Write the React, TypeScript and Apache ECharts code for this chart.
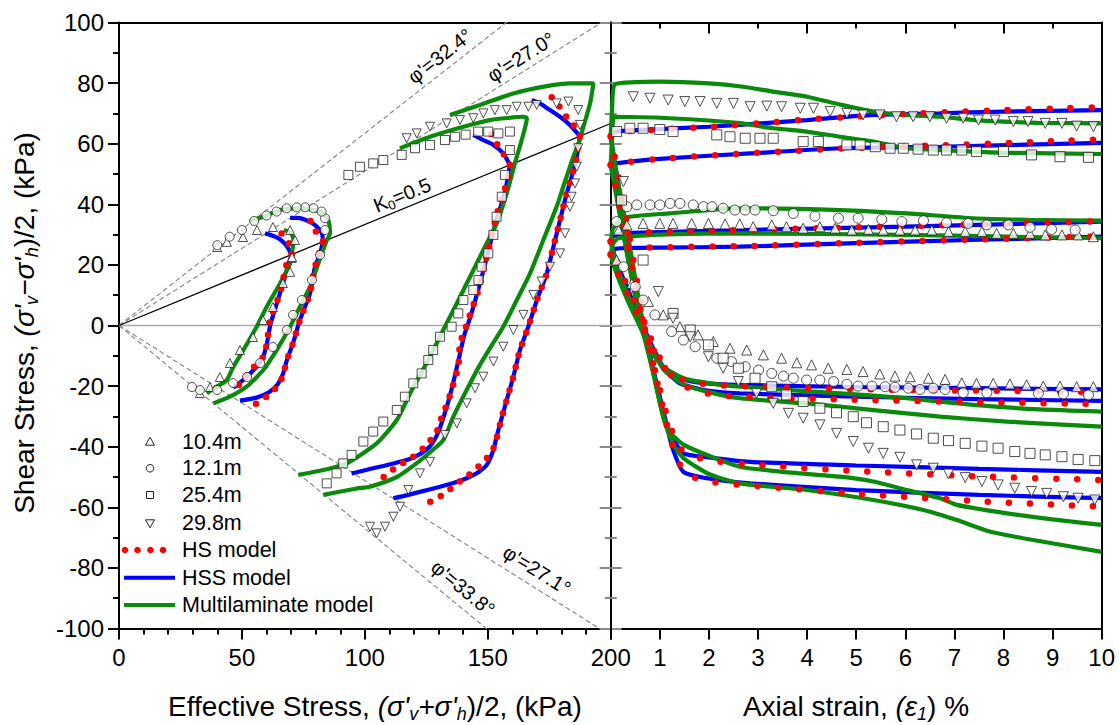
import React, { useEffect, useRef } from 'react';
import * as echarts from 'echarts';

const FONT = 'Arial, "Liberation Sans", Helvetica, sans-serif';
const RED = '#ff0000';
const BLUE = '#0000ff';
const GREEN = '#0a8a0a';
const GRAY = '#8a8a8a';

// ---------- reference lines ----------
const PHI_UP = [32.4, 27.0];
const PHI_DOWN = [27.1, 33.8];
const K0 = 0.5;

// ---------- LEFT PANEL: stress paths (s', t) ----------
// measured data
const D104L_comp = [[70.2,22.3],[71.6,28.2],[69.6,31.5],[62.6,32.5],[56.1,31.5],[50.4,29.2],[43.9,27.6],[39.9,25.9]];
const D104L_ext = [[70.4,22.6],[69.6,17.7],[66.7,14.0],[62.6,6.1],[58.6,1.8],[54.5,-3.8],[49.2,-8.1],[45.1,-12.4],[41.0,-17.0],[37.0,-20.3],[32.9,-22.3]];
const D121L_comp = [[83.8,31.5],[83.8,35.4],[82.4,37.6],[79.1,38.7],[75.7,39.0],[72.3,39.0],[68.2,38.7],[64.1,37.6],[60.0,36.3],[55.0,34.5],[50.0,31.5],[45.0,29.3],[40.0,26.5]];
const D121L_ext = [[81.8,23.3],[78.5,15.0],[74.4,8.4],[70.8,3.5],[68.3,-1.5],[62.6,-7.1],[57.4,-12.4],[52.1,-17.0],[46.4,-19.0],[39.9,-21.3],[32.9,-21.3],[29.7,-20.3]];
const D254L_comp = [[159.0,57.9],[159.0,64.0],[154.3,63.4],[150.2,64.0],[146.1,64.0],[141.0,63.0],[136.7,62.3],[132.6,61.2],[126.5,59.6],[120.4,58.5],[115.0,56.3],[107.5,54.6],[103.4,53.5],[98.0,52.4],[93.3,49.7]];
const D254L_ext = [[157.0,49.7],[155.7,42.5],[153.6,35.9],[152.3,29.9],[150.2,23.8],[147.5,19.4],[146.2,15.0],[144.1,11.7],[140.1,8.4],[138.0,4.0],[135.3,-0.4],[130.6,-3.7],[127.8,-8.1],[125.8,-11.4],[123.1,-15.8],[119.7,-19.1],[116.3,-23.5],[113.0,-27.9],[107.5,-31.7],[103.4,-35.0],[99.4,-38.3],[94.6,-42.7],[91.2,-45.5],[88.5,-48.8],[84.5,-52.1]];
const D298L_comp = [[187.5,66.2],[186.8,71.1],[182.8,73.9],[178.0,73.3],[169.9,72.8],[166.5,72.2],[161.8,72.2],[157.7,71.1],[152.9,71.1],[148.2,70.0],[144.1,68.4],[138.7,67.8],[133.3,66.7],[126.5,65.6],[121.1,63.4],[117.0,61.8]];
const D298L_ext = [[186.8,58.5],[186.2,52.4],[185.5,46.9],[184.1,42.5],[183.4,39.2],[181.4,30.4],[179.4,23.8],[175.3,19.4],[171.9,14.5],[168.5,10.1],[164.5,3.5],[160.4,-1.5],[156.3,-7.0],[152.3,-11.9],[148.2,-16.9],[144.8,-20.7],[141.4,-25.7],[137.4,-32.3],[132.6,-36.1],[126.5,-45.0],[122.4,-48.8],[117.7,-54.3],[114.3,-59.8],[111.6,-63.1],[108.2,-66.4],[104.8,-68.6],[102.1,-66.4]];

// HSS model
const H104L_comp = [[70.2,23.4],[68.0,26.5],[65.0,28.7],[62.0,29.8],[59.4,30.4]];
const H104L_ext = [[70.2,23.4],[68.5,19.0],[66.0,12.0],[63.5,5.5],[61.5,0.0],[60.2,-5.8],[58.6,-10.4],[56.0,-13.5],[52.5,-16.5],[49.0,-19.0],[46.5,-20.5]];
const H121L_comp = [[83.0,27.7],[82.5,30.5],[80.0,33.0],[76.0,34.8],[72.5,35.5],[69.6,35.5]];
const H121L_ext = [[83.0,27.7],[81.5,23.0],[79.7,19.3],[77.7,10.7],[73.6,1.8],[70.8,-5.8],[68.3,-11.4],[66.7,-16.0],[64.5,-19.5],[61.0,-22.0],[56.0,-23.8],[49.2,-24.8]];
const H254L_comp = [[159.0,53.0],[156.3,56.8],[152.3,59.6],[148.2,61.2],[144.1,62.9]];
const H254L_ext = [[159.0,53.0],[157.5,46.0],[155.5,40.0],[153.5,35.0],[151.0,27.0],[148.5,19.0],[146.0,11.5],[143.0,3.0],[140.5,-3.0],[138.5,-10.0],[136.5,-17.0],[134.5,-23.5],[132.5,-29.0],[130.0,-35.0],[127.5,-38.8],[125.0,-41.0],[120.0,-43.5],[114.3,-45.0],[108.0,-46.3],[103.4,-47.1],[98.0,-48.2],[94.6,-48.8]];
const H298L_comp = [[187.5,62.5],[183.4,66.2],[179.4,68.9],[175.3,71.1],[171.2,73.3],[167.9,74.4]];
const H298L_ext = [[187.5,62.5],[186.2,55.7],[184.1,49.1],[182.1,43.6],[179.4,34.8],[176.7,26.0],[174.0,17.2],[170.0,8.4],[166.5,-0.4],[163.1,-8.1],[160.4,-16.9],[157.7,-24.6],[155.5,-31.0],[153.6,-36.7],[152.3,-41.1],[149.6,-46.0],[146.0,-48.5],[141.4,-50.4],[136.0,-52.0],[130.6,-53.2],[122.0,-55.0],[115.6,-56.3],[111.6,-57.0]];

// HS model
const S104L_comp = [[70.2,23.4],[69.5,26.6],[67.5,29.0],[65.5,31.0]];
const S104L_ext = [[70.2,23.4],[68.3,20.6],[65.5,10.7],[61.4,1.8],[60.2,-5.8],[58.6,-10.4],[54.5,-14.0],[50.4,-18.0],[46.4,-21.9]];
const S121L_comp = [[83.0,27.7],[79.7,31.5],[77.7,34.8]];
const S121L_ext = [[83.0,27.7],[79.7,19.3],[77.7,10.7],[73.6,1.8],[70.8,-5.8],[68.3,-11.4],[66.5,-17.0],[64.0,-20.5],[60.0,-23.5],[57.0,-25.3],[54.0,-26.5]];
const S254L_comp = [[159.0,53.0],[158.4,54.0],[156.3,56.8],[153.6,60.1],[150.9,64.0]];
const S254L_ext = [[159.0,53.0],[158.4,48.9],[155.3,40.9],[153.6,36.5],[152.3,32.1],[148.9,20.5],[146.2,11.7],[142.5,2.9],[140.7,-1.5],[138.7,-5.9],[138.0,-13.6],[135.3,-21.3],[133.3,-26.2],[131.3,-30.1],[129.9,-33.9],[127.8,-36.7],[123.8,-40.5],[119.7,-43.3],[114.3,-46.0],[110.2,-48.3],[106.2,-51.0]];
const S298L_comp = [[187.5,62.5],[184.8,66.2],[181.4,69.5],[178.7,72.8],[174.6,76.6]];
const S298L_ext = [[187.5,62.5],[186.2,55.7],[184.1,49.1],[182.1,43.6],[179.4,34.8],[176.7,26.0],[174.0,17.2],[170.0,8.4],[166.5,-0.4],[163.1,-8.1],[160.4,-16.9],[157.7,-24.6],[155.5,-31.0],[153.6,-37.2],[152.3,-40.5],[149.6,-43.8],[145.5,-47.1],[141.4,-49.9],[136.7,-52.6],[132.6,-55.4],[127.8,-57.6],[123.1,-59.8]];

// Multilaminate model
const M104L_comp = [[70.2,23.4],[71.0,28.0],[70.0,30.5],[67.0,31.5]];
const M104L_ext = [[70.2,23.4],[69.6,20.5],[65.5,13.9],[60.1,6.2],[56.0,-0.4],[50.6,-8.1],[46.5,-13.6],[43.8,-18.0],[39.7,-20.2],[35.7,-22.4]];
const M121L_comp = [[84.5,28.2],[85.8,30.4],[85.1,34.8],[81.8,37.6],[73.6,38.7],[65.5,38.1],[58.7,35.9],[53.3,34.5]];
const M121L_ext = [[84.5,28.2],[81.1,20.5],[77.7,12.8],[73.6,6.2],[69.6,-0.4],[64.1,-8.1],[58.7,-14.7],[51.9,-20.2],[45.1,-23.5],[38.4,-25.7]];
const M254L_comp = [[161.0,53.5],[163.8,61.2],[165.9,68.4],[164.5,68.9],[150.9,67.8],[140.1,65.6],[126.5,62.3],[114.3,58.5]];
const M254L_ext = [[161.0,53.5],[157.7,43.6],[153.6,33.7],[148.2,24.9],[142.8,16.1],[137.4,7.3],[131.9,-1.5],[126.5,-10.3],[118.4,-22.4],[113.0,-31.2],[104.8,-38.9],[92.6,-45.5],[83.1,-47.7],[72.9,-49.3]];
const M298L_comp = [[187.5,61.5],[188.9,65.6],[191.6,73.3],[193.0,79.9],[183.4,79.9],[174.0,79.0],[160.4,76.6],[146.8,72.8],[134.6,69.5]];
const M298L_ext = [[187.5,61.5],[184.8,55.7],[180.7,45.8],[178.0,39.2],[172.6,28.2],[167.2,17.2],[161.8,8.4],[156.3,-0.4],[152.0,-6.0],[146.8,-13.0],[141.4,-21.3],[136.0,-30.1],[131.9,-37.8],[127.0,-41.5],[121.0,-45.5],[113.0,-50.0],[102.1,-53.2],[96.7,-53.8],[83.1,-55.9]];

// ---------- RIGHT PANEL: t vs axial strain ----------
const D104R_comp = [[0.16,31.5],[0.33,33.2],[0.66,33.7],[1.0,33.7],[1.27,33.7],[1.65,33.7],[1.99,33.7],[2.33,33.5],[2.63,33.5],[2.9,32.6],[3.28,33.2],[3.58,32.6],[3.92,32.1],[4.26,32.6],[4.57,32.1],[4.91,31.5],[5.25,31.7],[5.55,31.5],[5.89,31.5],[6.2,31.5],[6.54,31.5],[6.88,31.0],[7.22,31.0],[7.56,31.0],[7.86,30.4],[8.2,30.4],[8.54,30.4],[8.85,29.9],[9.19,29.9],[9.52,29.9],[9.83,29.3]];
const D104R_ext = [[0.12,21.6],[0.43,13.9],[0.77,7.9],[1.07,3.5],[1.41,-0.4],[1.78,-3.1],[2.09,-5.3],[2.43,-7.5],[2.77,-8.1],[3.11,-9.7],[3.48,-10.8],[3.79,-12.3],[4.09,-13.0],[4.43,-14.1],[4.81,-14.5],[5.14,-15.2],[5.48,-16.0],[5.79,-16.7],[6.1,-16.9],[6.47,-17.4],[6.81,-17.8],[7.15,-18.9],[7.45,-19.1],[7.79,-19.1],[8.13,-19.3],[8.47,-19.6],[8.81,-20.0],[9.15,-20.0],[9.49,-20.2],[9.83,-20.2]];
const D121R_comp = [[0.12,34.3],[0.33,39.2],[0.53,39.8],[0.8,39.8],[1.0,39.8],[1.21,40.3],[1.41,40.3],[1.68,39.8],[1.89,39.2],[2.06,39.2],[2.29,38.7],[2.53,38.1],[2.74,38.1],[2.94,38.1],[3.31,37.9],[3.72,37.0],[4.16,36.1],[4.64,35.4],[5.04,35.4],[5.52,35.0],[5.93,34.3],[6.37,34.6],[6.84,33.9],[7.28,33.7],[7.66,33.2],[8.1,33.2],[8.54,32.4],[8.98,31.7],[9.46,31.5]];
const D121R_ext = [[0.26,19.4],[0.5,12.8],[0.66,8.4],[0.9,3.5],[1.24,-2.0],[1.48,-4.8],[1.72,-7.0],[2.16,-10.8],[2.46,-11.9],[2.74,-13.6],[3.01,-14.7],[3.28,-15.8],[3.52,-16.7],[3.72,-17.4],[3.99,-18.0],[4.26,-18.0],[4.54,-18.5],[4.81,-19.4],[5.04,-20.0],[5.32,-20.0],[5.59,-20.2],[5.79,-20.4],[6.06,-20.7],[6.3,-21.1],[6.57,-20.7],[6.81,-21.1],[7.18,-22.2],[7.66,-22.2],[8.71,-22.4],[9.22,-22.6],[9.73,-22.9]];
const D254R_comp = [[0.12,64.0],[0.39,65.1],[0.66,65.1],[1.0,64.7],[1.27,64.0],[2.16,62.9],[2.43,62.3],[2.74,61.8],[3.04,61.8],[3.31,61.8],[3.92,60.7],[4.23,60.7],[4.81,59.6],[5.08,59.6],[5.39,59.0],[5.69,58.5],[5.96,58.5],[6.26,58.2],[6.57,57.9],[6.84,57.9],[7.15,57.9],[7.45,57.4],[8.0,57.4],[8.57,56.3],[9.15,55.7],[9.73,55.5]];
const D254R_ext = [[0.22,41.4],[0.66,21.6],[1.27,4.0],[1.62,-1.5],[1.99,-6.4],[2.29,-10.8],[2.6,-14.1],[2.94,-17.4],[3.28,-20.2],[3.58,-22.9],[3.92,-25.1],[4.26,-27.3],[4.6,-28.8],[4.94,-30.1],[5.21,-32.1],[5.55,-33.4],[5.89,-34.5],[6.23,-35.8],[6.57,-37.2],[6.88,-38.0],[7.22,-38.9],[7.56,-39.8],[7.89,-40.5],[8.23,-41.6],[8.54,-42.2],[8.85,-42.7],[9.19,-43.3],[9.52,-44.2],[9.86,-44.6]];
const D298R_comp = [[0.46,75.5],[0.8,75.0],[1.17,74.4],[1.51,73.9],[1.82,73.9],[2.16,73.3],[2.5,73.3],[2.84,72.2],[3.18,72.4],[3.48,72.2],[3.86,71.7],[4.13,71.7],[4.47,70.6],[4.81,70.0],[5.14,69.5],[5.48,69.5],[5.82,68.9],[6.16,68.9],[6.5,68.9],[6.84,68.4],[7.18,68.4],[7.49,67.8],[7.83,67.8],[8.2,67.3],[8.5,67.3],[8.85,66.7],[9.19,66.7],[9.49,65.8],[9.83,65.6]];
const D298R_ext = [[0.26,47.5],[0.97,11.2],[1.27,2.4],[1.62,-3.7],[1.99,-10.3],[2.29,-14.1],[2.6,-18.5],[2.97,-22.4],[3.31,-25.7],[3.62,-29.0],[3.92,-30.6],[4.26,-32.8],[4.6,-35.6],[4.94,-38.3],[5.25,-40.5],[5.55,-42.2],[5.89,-43.5],[6.23,-46.0],[6.57,-47.1],[6.88,-49.0],[7.22,-50.2],[7.56,-51.5],[7.89,-52.6],[8.23,-53.7],[8.57,-54.8],[8.88,-55.4],[9.22,-56.5],[9.52,-57.0],[9.86,-57.6]];

const H104R_comp = [[0,23.4],[0.05,25.0],[0.2,25.5],[1.0,25.7],[2.63,26.0],[5.0,27.2],[7.5,28.3],[10,29.3]];
const H104R_ext = [[0,23.4],[0.12,18.3],[0.39,8.4],[0.6,0],[0.8,-8.0],[1.07,-13.6],[1.41,-17.5],[1.89,-19.0],[2.63,-19.6],[5,-20.3],[7.5,-20.7],[10,-21.1]];
const H121R_comp = [[0,27.7],[0.05,29.5],[0.3,30.5],[1.0,30.8],[2.63,31.5],[6.0,32.6],[10,34.3]];
const H121R_ext = [[0,27.7],[0.12,21.0],[0.4,10.0],[0.6,2.0],[0.85,-7.0],[1.1,-14.5],[1.4,-19.0],[1.9,-21.3],[2.63,-22.4],[5,-23.5],[7.5,-24.3],[10,-24.9]];
const H254R_comp = [[0,53.0],[0.1,53.5],[1.0,55.0],[2.84,56.8],[4.67,58.5],[6.71,59.0],[10,60.3]];
const H254R_ext = [[0,53.0],[0.1,45.0],[0.3,27.0],[0.6,2.0],[0.87,-15.0],[1.0,-24.0],[1.1,-31.0],[1.25,-36.7],[1.48,-42.2],[2.0,-43.5],[2.84,-45.0],[5,-46.2],[7.5,-47.3],[10,-48.3]];
const H298R_comp = [[0,62.5],[0.1,64.0],[1.0,64.8],[2.0,65.6],[2.7,66.3],[4.0,67.8],[5.35,69.5],[6.7,70.0],[8.0,70.6],[10,71.1]];
const H298R_ext = [[0,62.5],[0.1,52.0],[0.3,33.0],[0.6,5.0],[0.9,-17.0],[1.1,-30.0],[1.25,-40.0],[1.48,-48.3],[2.0,-50.5],[2.84,-52.1],[5,-54.3],[7.5,-55.9],[10,-57.0]];

const S104R_comp = [[0,23.4],[0.05,25.0],[0.2,25.5],[1.0,25.8],[3,26.3],[5,27.3],[7.5,28.4],[10,29.5]];
const S104R_ext = [[0,23.4],[0.15,17.0],[0.45,7.0],[0.7,-2.0],[0.9,-9.0],[1.1,-14.0],[1.5,-18.0],[2.0,-19.5],[2.63,-20.0],[5,-21.0],[7.5,-21.5],[10,-21.9]];
const S121R_comp = [[0,27.7],[0.05,29.5],[0.3,30.5],[1.0,30.9],[3,31.6],[6,32.8],[10,34.4]];
const S121R_ext = [[0,27.7],[0.15,20.0],[0.45,9.0],[0.7,0.0],[0.95,-9.0],[1.15,-15.0],[1.5,-20.0],[2.0,-22.5],[2.63,-23.5],[5,-24.5],[7.5,-25.3],[10,-25.9]];
const S254R_comp = [[0,53.0],[0.1,53.5],[1.0,55.0],[3,57.0],[5,58.6],[7,59.6],[9,60.8],[10,61.4]];
const S254R_ext = [[0,53.0],[0.1,46.0],[0.35,26.0],[0.65,2.0],[0.95,-18.0],[1.15,-30.0],[1.3,-37.0],[1.5,-42.0],[2.0,-44.5],[3,-46.0],[5,-48.0],[7.5,-49.8],[10,-51.0]];
const S298R_comp = [[0,62.5],[0.1,63.8],[1.0,64.7],[2,65.5],[3,66.7],[4,68.0],[5,69.0],[6,69.8],[7,70.5],[8,71.1],[9,71.6],[10,72.0]];
const S298R_ext = [[0,62.5],[0.1,54.0],[0.35,32.0],[0.65,4.0],[0.95,-19.0],[1.15,-33.0],[1.35,-44.0],[1.55,-49.0],[2.0,-51.5],[3,-53.0],[5,-55.5],[7.5,-58.0],[10,-59.8]];

const M104R_comp = [[0,23.4],[0.05,27.0],[0.15,28.8],[1.0,30.0],[2.7,30.4],[6.0,29.9],[10,28.8]];
const M104R_ext = [[0,23.4],[0.1,18.0],[0.35,8.0],[0.6,-0.5],[0.85,-9.0],[1.1,-14.0],[1.5,-17.5],[2.0,-19.0],[2.63,-20.2],[4.67,-22.4],[6.03,-24.0],[7.39,-26.2],[8.74,-27.7],[10,-28.4]];
const M121R_comp = [[0,27.7],[0.05,32.0],[0.25,35.5],[1.2,37.0],[2.63,38.7],[4.67,38.1],[6.03,37.0],[7.39,35.4],[8.5,34.9],[10,34.6]];
const M121R_ext = [[0,27.7],[0.1,21.0],[0.35,10.0],[0.6,1.0],[0.85,-8.0],[1.1,-15.0],[1.5,-19.5],[2.0,-22.0],[2.63,-24.0],[3.99,-25.7],[5.35,-27.9],[6.71,-30.1],[8.07,-31.7],[10,-33.4]];
const M254R_comp = [[0,53.0],[0.03,62.0],[0.08,68.9],[1.2,68.4],[2.63,66.8],[3.31,65.1],[3.99,64.0],[4.67,62.3],[5.35,60.7],[6.03,58.5],[6.71,57.9],[7.39,57.4],[8.07,57.0],[10,56.6]];
const M254R_ext = [[0,53.0],[0.1,44.0],[0.35,22.0],[0.6,2.0],[0.87,-16.0],[1.07,-30.0],[1.25,-36.0],[1.5,-39.5],[2.0,-43.0],[2.63,-46.6],[3.5,-48.3],[4.67,-49.9],[5.35,-51.5],[6.03,-54.3],[6.71,-57.0],[7.05,-59.2],[8.07,-62.0],[9.0,-64.0],[10,-65.8]];
const M298R_comp = [[0,62.5],[0.03,72.0],[0.08,79.5],[0.5,80.3],[1.0,80.5],[2.0,79.9],[2.7,78.8],[3.3,77.2],[4.0,75.5],[4.7,72.8],[5.35,70.6],[6.0,69.5],[6.7,68.9],[7.4,67.8],[8.0,67.3],[8.7,66.9],[10,66.7]];
const M298R_ext = [[0,62.5],[0.1,52.0],[0.35,30.0],[0.6,6.0],[0.9,-18.0],[1.1,-32.0],[1.3,-40.0],[1.5,-44.0],[2.0,-49.0],[2.63,-52.1],[3.99,-54.3],[5.35,-57.6],[6.37,-60.9],[7.05,-64.2],[7.72,-68.0],[8.4,-70.2],[10,-74.7]];

// ---------- legend ----------
const DEPTHS = ['10.4m', '12.1m', '25.4m', '29.8m'];
const MODELS = ['HS model', 'HSS model', 'Multilaminate model'];

// ---------- axis ticks ----------
const LEFT_X = { min: 0, max: 200, interval: 50 };
const RIGHT_X = { min: 0, max: 10, interval: 1 };
const Y_RANGE = { min: -100, max: 100, interval: 20 };

type Pt = number[];

function buildOption() {
  const series: any[] = [];
  const axisIdx = (p: number) => (p === 0 ? { xAxisIndex: 0, yAxisIndex: 0 } : { xAxisIndex: 2, yAxisIndex: 2 });

  const refLine = (data: Pt[], color: string, width: number, type: any, p: number) => {
    series.push({
      type: 'line', data, ...axisIdx(p), symbol: 'none', silent: true, clip: true, z: 1,
      lineStyle: { color, width, type },
    });
  };
  const model = (data: Pt[], kind: 'HS' | 'HSS' | 'M', p: number) => {
    if (kind === 'HS') {
      series.push({
        type: 'line', data, ...axisIdx(p), symbol: 'none', silent: true, z: 4, smooth: 0.2,
        lineStyle: { color: RED, width: 6.5, type: [0, p === 0 ? 12 : 21], cap: 'round' },
      });
    } else {
      series.push({
        type: 'line', data, ...axisIdx(p), symbol: 'none', silent: true, z: kind === 'HSS' ? 2 : 3, smooth: 0.2,
        lineStyle: { color: kind === 'HSS' ? BLUE : GREEN, width: 4.2 },
      });
    }
  };
  const marks = (data: Pt[], symbol: string, rotate: number, p: number) => {
    series.push({
      type: 'scatter', data, ...axisIdx(p), symbol, symbolRotate: rotate, symbolSize: p === 0 ? 9 : 10,
      silent: true, z: 5,
      itemStyle: { color: '#ffffff', borderColor: '#222', borderWidth: 1 },
    });
  };

  refLine([[LEFT_X.min, 0], [LEFT_X.max, 0]], '#aaaaaa', 1.5, 'solid', 0);
  refLine([[RIGHT_X.min, 0], [RIGHT_X.max, 0]], '#aaaaaa', 1.5, 'solid', 1);
  PHI_UP.forEach((phi) => refLine([[0, 0], [200, 200 * Math.tan((phi * Math.PI) / 180)]], GRAY, 1.2, [5, 3], 0));
  PHI_DOWN.forEach((phi) => refLine([[0, 0], [200, -200 * Math.tan((phi * Math.PI) / 180)]], GRAY, 1.2, [5, 3], 0));
  refLine([[0, 0], [200, (200 * (1 - K0)) / (1 + K0)]], '#000', 1.3, 'solid', 0);

  [H104L_comp, H104L_ext, H121L_comp, H121L_ext, H254L_comp, H254L_ext, H298L_comp, H298L_ext].forEach((d) => model(d, 'HSS', 0));
  [M104L_comp, M104L_ext, M121L_comp, M121L_ext, M254L_comp, M254L_ext, M298L_comp, M298L_ext].forEach((d) => model(d, 'M', 0));
  [S104L_comp, S104L_ext, S121L_comp, S121L_ext, S254L_comp, S254L_ext, S298L_comp, S298L_ext].forEach((d) => model(d, 'HS', 0));
  [H104R_comp, H104R_ext, H121R_comp, H121R_ext, H254R_comp, H254R_ext, H298R_comp, H298R_ext].forEach((d) => model(d, 'HSS', 1));
  [M104R_comp, M104R_ext, M121R_comp, M121R_ext, M254R_comp, M254R_ext, M298R_comp, M298R_ext].forEach((d) => model(d, 'M', 1));
  [S104R_comp, S104R_ext, S121R_comp, S121R_ext, S254R_comp, S254R_ext, S298R_comp, S298R_ext].forEach((d) => model(d, 'HS', 1));

  marks(D104L_comp, 'triangle', 0, 0); marks(D104L_ext, 'triangle', 0, 0);
  marks(D121L_comp, 'circle', 0, 0); marks(D121L_ext, 'circle', 0, 0);
  marks(D254L_comp, 'rect', 0, 0); marks(D254L_ext, 'rect', 0, 0);
  marks(D298L_comp, 'triangle', 180, 0); marks(D298L_ext, 'triangle', 180, 0);
  marks(D104R_comp, 'triangle', 0, 1); marks(D104R_ext, 'triangle', 0, 1);
  marks(D121R_comp, 'circle', 0, 1); marks(D121R_ext, 'circle', 0, 1);
  marks(D254R_comp, 'rect', 0, 1); marks(D254R_ext, 'rect', 0, 1);
  marks(D298R_comp, 'triangle', 180, 1); marks(D298R_ext, 'triangle', 180, 1);

  const blackLine = { show: true, onZero: false, lineStyle: { color: '#000', width: 2 } };
  const label = { fontSize: 24, fontFamily: FONT, color: '#000' };

  const xAxis = [
    {
      gridIndex: 0, type: 'value', ...LEFT_X, position: 'bottom', axisLine: blackLine,
      axisTick: { show: true, length: 11, lineStyle: { color: '#000', width: 2 } },
      minorTick: { show: true, splitNumber: 5, length: 6, lineStyle: { color: '#000', width: 2 } },
      splitLine: { show: false }, minorSplitLine: { show: false },
      axisLabel: { ...label, margin: 17 },
    },
    {
      gridIndex: 0, type: 'value', ...LEFT_X, position: 'top', axisLine: blackLine,
      axisTick: { show: false }, axisLabel: { show: false }, splitLine: { show: false },
    },
    {
      gridIndex: 1, type: 'value', ...RIGHT_X, position: 'bottom', axisLine: blackLine,
      axisTick: { show: true, length: 11, lineStyle: { color: '#000', width: 2 } },
      splitLine: { show: false },
      axisLabel: { ...label, margin: 17, formatter: (v: number) => (v === 0 ? '' : String(v)) },
    },
    {
      gridIndex: 1, type: 'value', min: 0, max: 10, interval: 2, position: 'top', axisLine: blackLine,
      axisTick: { show: true, inside: true, length: 11, lineStyle: { color: '#000', width: 2 } },
      minorTick: { show: true, splitNumber: 2, length: 6, lineStyle: { color: '#000', width: 2 } },
      splitLine: { show: false }, minorSplitLine: { show: false }, axisLabel: { show: false },
    },
  ];
  const grayTick = { show: true, inside: true, length: 11, lineStyle: { color: GRAY, width: 2 } };
  const grayMinor = { show: true, splitNumber: 2, length: 6, lineStyle: { color: GRAY, width: 2 } };
  const yAxis = [
    {
      gridIndex: 0, type: 'value', ...Y_RANGE, position: 'left', axisLine: blackLine,
      axisTick: { show: true, length: 11, lineStyle: { color: '#000', width: 2 } },
      minorTick: { show: true, splitNumber: 2, length: 6, lineStyle: { color: '#000', width: 2 } },
      splitLine: { show: false }, minorSplitLine: { show: false },
      axisLabel: { ...label, margin: 15 },
    },
    {
      gridIndex: 0, type: 'value', ...Y_RANGE, position: 'right', axisLine: blackLine,
      axisTick: grayTick, minorTick: grayMinor, splitLine: { show: false }, minorSplitLine: { show: false },
      axisLabel: { show: false },
    },
    {
      gridIndex: 1, type: 'value', ...Y_RANGE, position: 'left', axisLine: blackLine,
      axisTick: grayTick, minorTick: grayMinor, splitLine: { show: false }, minorSplitLine: { show: false },
      axisLabel: { show: false },
    },
    {
      gridIndex: 1, type: 'value', ...Y_RANGE, position: 'right', axisLine: blackLine,
      axisTick: { show: false }, splitLine: { show: false }, axisLabel: { show: false },
    },
  ];

  const tRich = {
    n: { fontSize: 28, fontFamily: FONT, lineHeight: 34, fill: '#000' },
    i: { fontSize: 28, fontFamily: FONT, fontStyle: 'italic', lineHeight: 34, fill: '#000' },
    s: { fontSize: 18, fontFamily: FONT, fontStyle: 'italic', lineHeight: 14, verticalAlign: 'bottom', fill: '#000' },
  };
  const title = (text: string, x: number, y: number, rotation = 0) => ({
    type: 'text', x, y, rotation, silent: true,
    style: { text, rich: tRich, align: 'center', verticalAlign: 'middle', fill: '#000', fontFamily: FONT, fontSize: 28 },
  });
  const lRich = {
    a: { fontSize: 20, fontFamily: FONT, fill: '#000', lineHeight: 24 },
    b: { fontSize: 13, fontFamily: FONT, fill: '#000', lineHeight: 10, verticalAlign: 'bottom' },
  };
  const rotLabel = (text: string, x: number, y: number, deg: number) => ({
    type: 'text', x, y, rotation: (deg * Math.PI) / 180, silent: true,
    style: { text, rich: lRich, align: 'center', verticalAlign: 'middle', fill: '#000', fontFamily: FONT, fontSize: 20 },
  });

  const legendRows = [441.7, 468.3, 495, 523.3, 550, 577.7, 605];
  const lx = 150;
  const mk = { fill: '#fff', stroke: '#222', lineWidth: 1 };
  const legendItems: any[] = [
    { type: 'polygon', shape: { points: [[lx, legendRows[0] - 4.5], [lx + 4.5, legendRows[0] + 3.5], [lx - 4.5, legendRows[0] + 3.5]] }, style: mk },
    { type: 'circle', shape: { cx: lx, cy: legendRows[1], r: 3.8 }, style: mk },
    { type: 'rect', shape: { x: lx - 3.5, y: legendRows[2] - 3.5, width: 7, height: 7 }, style: mk },
    { type: 'polygon', shape: { points: [[lx, legendRows[3] + 4.5], [lx + 4.5, legendRows[3] - 3.5], [lx - 4.5, legendRows[3] - 3.5]] }, style: mk },
    ...[125, 137.5, 150.5, 163].map((cx) => ({ type: 'circle', shape: { cx, cy: legendRows[4], r: 3.3 }, style: { fill: RED } })),
    { type: 'line', shape: { x1: 124, y1: legendRows[5], x2: 175, y2: legendRows[5] }, style: { stroke: BLUE, lineWidth: 4 } },
    { type: 'line', shape: { x1: 124, y1: legendRows[6], x2: 175, y2: legendRows[6] }, style: { stroke: GREEN, lineWidth: 4 } },
    ...[...DEPTHS, ...MODELS].map((t, i) => ({
      type: 'text', x: 182, y: legendRows[i],
      style: { text: t, fontSize: 21.5, fontFamily: FONT, fill: '#000', align: 'left', verticalAlign: 'middle' },
    })),
  ];

  const graphic = [
    title("{n|Effective Stress, }{i|(σ'}{s|v}{i|+σ'}{s|h}{n|)/2, (kPa)}", 375, 706),
    title('{n|Axial strain, }{i|(ε}{s|1}{n|) %}', 856, 706),
    title("{n|Shear Stress, }{i|(σ'}{s|v}{i|−σ'}{s|h}{n|)/2, (kPa)}", 24, 323, Math.PI / 2),
    rotLabel("{a|φ'=" + PHI_UP[0].toFixed(1) + '°}', 440, 56, 38),
    rotLabel("{a|φ'=" + PHI_UP[1].toFixed(1) + '°}', 521, 57, 32),
    rotLabel('{a|K}{b|0}{a|=' + K0.toFixed(1) + '}', 402, 195, 22.3),
    rotLabel("{a|φ'=" + PHI_DOWN[0].toFixed(1) + '°}', 537, 570, -32),
    rotLabel("{a|φ'=" + PHI_DOWN[1].toFixed(1) + '°}', 463, 588, -39.5),
    ...legendItems.map((g) => ({ ...g, silent: true, z: 100 })),
  ];

  return {
    animation: false,
    backgroundColor: '#ffffff',
    grid: [
      { left: 119, top: 22.5, width: 491.7, height: 606, containLabel: false },
      { left: 610.7, top: 22.5, width: 491, height: 606, containLabel: false },
    ],
    xAxis,
    yAxis,
    series,
    graphic,
  };
}

export default function App() {
  const ref = useRef<HTMLDivElement>(null);
  useEffect(() => {
    if (!ref.current) return;
    const chart = echarts.init(ref.current, null, { renderer: 'svg' });
    chart.setOption(buildOption() as any);
    return () => chart.dispose();
  }, []);
  return (
    <div
      ref={ref}
      style={{ position: 'fixed', left: 0, top: 0, width: 1119, height: 725, background: '#fff' }}
    />
  );
}
